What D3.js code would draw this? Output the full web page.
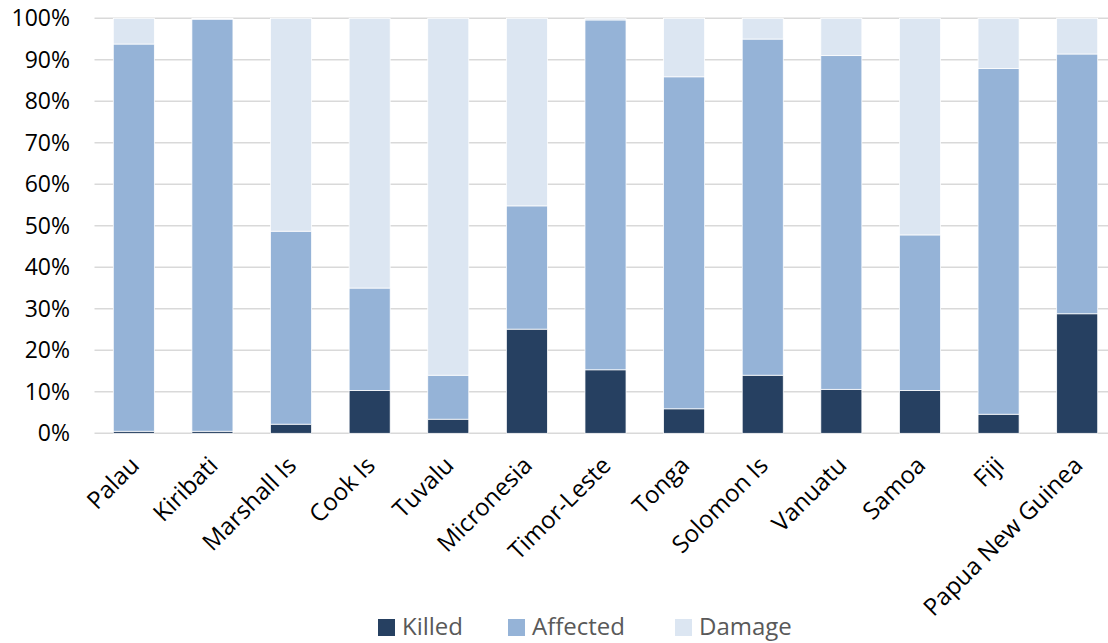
<!DOCTYPE html>
<html>
<head>
<meta charset="utf-8">
<script src="https://cdn.jsdelivr.net/npm/d3@7"></script>
<style>
  html, body { margin: 0; padding: 0; background: #fff; }
  svg { display: block; }
  text { font-family: "Open Sans", "Noto Sans", sans-serif; }
</style>
</head>
<body>
<svg id="chart" width="1108" height="643"></svg>
<script>
const categories = ["Palau", "Kiribati", "Marshall Is", "Cook Is", "Tuvalu", "Micronesia", "Timor-Leste", "Tonga", "Solomon Is", "Vanuatu", "Samoa", "Fiji", "Papua New Guinea"];
const killed   = [0.5, 0.5, 2.2, 10.3, 3.4, 25.1, 15.3, 5.9, 14.0, 10.6, 10.3, 4.6, 28.8];
const affected = [93.3, 99.3, 46.5, 24.7, 10.6, 29.7, 84.3, 80.0, 81.0, 80.4, 37.5, 83.3, 62.6];
const damage   = [6.2, 0.2, 51.3, 65.0, 86.0, 45.2, 0.4, 14.1, 5.0, 9.0, 52.2, 12.1, 8.6];
const seriesNames = ["Killed", "Affected", "Damage"];
const seriesColors = ["#264061", "#95b3d7", "#dce6f2"];
const yTicks = [0, 10, 20, 30, 40, 50, 60, 70, 80, 90, 100];

const svg = d3.select("#chart");
const margin = { left: 94.5, right: 1116.5, top: 18.3, bottom: 433.3 };

const x = d3.scaleBand().domain(categories).range([margin.left, margin.right]).paddingInner(0.478).paddingOuter(0.239);
const y = d3.scaleLinear().domain([0, 100]).range([margin.bottom, margin.top]);

// gridlines
svg.append("g").selectAll("line").data(yTicks).join("line")
  .attr("x1", margin.left).attr("x2", 1108)
  .attr("y1", d => y(d)).attr("y2", d => y(d))
  .attr("stroke", "#d9d9d9").attr("stroke-width", 1.5);

// y labels
const yAxis = d3.axisLeft(y).tickValues(yTicks).tickFormat(d => d + "%").tickSize(0).tickPadding(0);
const gy = svg.append("g").attr("transform", `translate(70,0)`).call(yAxis);
gy.select(".domain").remove();
gy.selectAll("text").attr("font-size", 23).attr("fill", "#000").attr("font-family", "'Open Sans', sans-serif");

// stacked data
const rows = categories.map((c, i) => ({ cat: c, Killed: killed[i], Affected: affected[i], Damage: damage[i] }));
const stack = d3.stack().keys(seriesNames)(rows);

svg.append("g").selectAll("g").data(stack).join("g")
  .attr("fill", (d, i) => seriesColors[i])
  .selectAll("rect").data(d => d).join("rect")
  .attr("x", d => x(d.data.cat))
  .attr("width", x.bandwidth())
  .attr("y", d => y(d[1]))
  .attr("height", d => y(d[0]) - y(d[1]))
  .attr("stroke", "#ffffff").attr("stroke-width", 0.75);

// x labels
const gx = svg.append("g");
gx.selectAll("text").data(categories).join("text")
  .attr("transform", d => `translate(${x(d) + x.bandwidth() / 2 - 5},${455}) rotate(-45)`)
  .attr("text-anchor", "end")
  .attr("dy", "0.7em")
  .attr("font-size", 24)
  .attr("fill", "#000")
  .text(d => d);

// legend
const legendItems = [
  { name: "Killed", x: 378 },
  { name: "Affected", x: 508 },
  { name: "Damage", x: 675 }
];
const lg = svg.append("g");
legendItems.forEach((it, i) => {
  lg.append("rect").attr("x", it.x).attr("y", 619).attr("width", 17).attr("height", 17).attr("fill", seriesColors[i]);
  lg.append("text").attr("x", it.x + 24).attr("y", 627).attr("dy", "0.35em")
    .attr("font-size", 24).attr("fill", "#595959").text(it.name);
});
</script>
</body>
</html>
